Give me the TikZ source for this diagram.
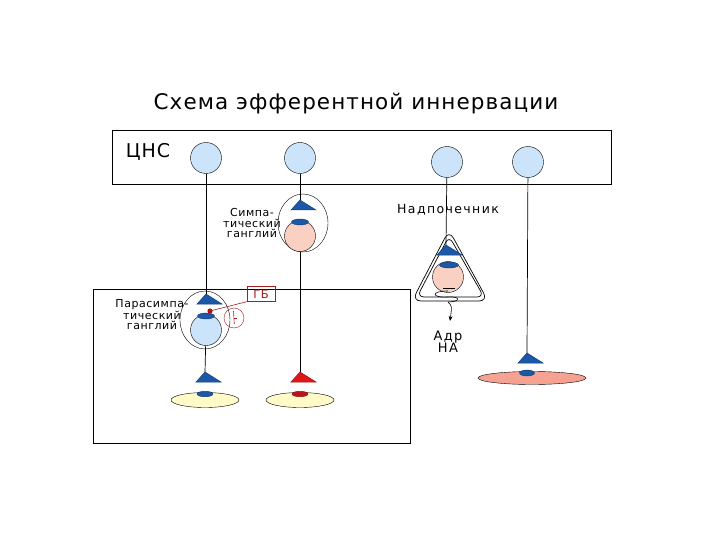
\documentclass[tikz,border=0pt]{standalone}
\usepackage{fontspec}
\setmainfont{DejaVu Sans}[LetterSpace=11]
\newfontfamily\titlefont{DejaVu Sans}[LetterSpace=5]
\usetikzlibrary{shapes.geometric, arrows.meta}

\definecolor{somablue}{RGB}{204,228,250}
\definecolor{somapink}{RGB}{250,208,194}
\definecolor{termblue}{RGB}{28,88,168}
\definecolor{termred}{RGB}{222,24,24}
\definecolor{cellyellow}{RGB}{255,250,200}
\definecolor{cellsalmon}{RGB}{245,162,146}
\definecolor{gbred}{RGB}{165,30,30}

\begin{document}
\begin{tikzpicture}[
    x=1pt, y=-1pt,
    >={Stealth[length=5pt, width=4pt]},
    % Styles
    soma_blue/.style={circle, draw=black, fill=somablue, minimum size=31pt, inner sep=0pt},
    soma_pink/.style={circle, draw=black, fill=somapink, minimum size=31pt, inner sep=0pt},
    cap_blue/.style={ellipse, draw=termblue!60!black, fill=termblue, minimum width=17pt, minimum height=6pt, inner sep=0pt},
    cap_red/.style={cap_blue, draw=termred!60!black, fill=termred!85!black},
    ganglion/.style={ellipse, draw=black, minimum width=50pt, minimum height=58pt, inner sep=0pt},
    target_cell/.style={ellipse, draw=black, minimum width=68pt, minimum height=15pt, inner sep=0pt},
    frame_box/.style={draw=black, line width=0.6pt},
    axon/.style={black, line width=0.7pt},
    small_label/.style={font=\titlefont\fontsize{11}{10.4}\selectfont, align=center},
    pics/term/.style={code={
        \filldraw[fill=#1, draw=#1!70!black, line width=0.5pt] (0,0) -- (-9,10) -- (16,10) -- cycle;}}
]
    \useasboundingbox (0,0) rectangle (720,540);

    % ==========================================
    % 1. TITLE AND FRAMES
    % ==========================================
    \node[font=\titlefont\fontsize{21.5}{24}\selectfont] (title) at (356,104) {Схема эфферентной иннервации};

    \draw[frame_box] (112,130) rectangle (611,184);
    \node[font=\titlefont\fontsize{19}{21}\selectfont] (cns) at (148,152) {ЦНС};

    \draw[frame_box] (93,289) rectangle (410,443);

    % ==========================================
    % 2. CNS NEURONS
    % ==========================================
    \node[soma_blue] (cns1) at (206,158) {};
    \node[soma_blue] (cns2) at (300,158) {};
    \node[soma_blue] (cns3) at (447,162) {};
    \node[soma_blue] (cns4) at (528,162) {};

    % ==========================================
    % 3. SYNAPSE POINTS
    % ==========================================
    \coordinate (symp_syn) at (300,200);
    \coordinate (para_syn) at (206,294);
    \coordinate (adr_syn) at (446,245);
    \coordinate (eff1_syn) at (205,372);
    \coordinate (eff2_syn) at (300,372);
    \coordinate (eff3_syn) at (527,353);

    % ==========================================
    % 4. SYMPATHETIC GANGLION
    % ==========================================
    \node[ganglion] (symp_gang) at (303,223) {};
    \node[soma_pink] (symp_soma) at (300,236) {};
    \node[cap_blue] (symp_cap) at (300,222) {};
    \node[small_label] (symp_text) at (252,223) {Симпа-\\тический\\ганглий};

    % ==========================================
    % 5. PARASYMPATHETIC GANGLION
    % ==========================================
    \node[ganglion] (para_gang) at (205,320) {};
    \node[soma_blue] (para_soma) at (206,330) {};
    \node[cap_blue] (para_cap) at (206,316) {};
    \node[small_label] (para_text) at (152,315) {Парасимпа-\\тический\\ганглий};

    % ГБ receptor
    \node[draw=gbred, text=gbred, font=\titlefont\fontsize{11.5}{12}\selectfont, text height=8.5pt, text depth=0pt, minimum width=28pt, minimum height=15pt, inner sep=0pt] (gb) at (261,294) {ГБ};
    \coordinate (gb_site) at (210,311);
    \draw[gbred, line width=0.6pt] (gb_site) -- (gb.south west);
    \fill[termred!80!black] (gb_site) circle (2.6);
    \node[circle, draw=gbred, minimum size=20pt, inner sep=0pt] (block) at (234,318) {};
    \draw[gbred, line width=0.6pt] (block.center) ++(-0.5,-7) -- ++(0.8,13);
    \draw[gbred, line width=0.6pt] (block.center) -- ++(3,0);

    % ==========================================
    % 6. ADRENAL GLAND
    % ==========================================
    \draw[line width=0.7pt, rounded corners=9] (449,230) -- (488,301) -- (412,301) -- cycle;
    \draw[line width=0.7pt, rounded corners=7] (449,236) -- (484,297) -- (417,297) -- cycle;
    \node[soma_pink] (adr_soma) at (448,277) {};
    \node[cap_blue, minimum width=19pt] (adr_cap) at (449,265) {};
    \draw[line width=0.6pt] (443,288) -- (455,288);
    \node[font=\fontsize{12.5}{14}\selectfont] (adr_text) at (448,210) {Надпочечник};

    % coil and release
    \coordinate (coil_end) at (448,302);
    \coordinate (release) at (450,321);
    \draw[line width=0.6pt] (448,291) .. controls (430,291) and (432,298) .. (447,297)
        .. controls (462,296) and (460,302) .. (coil_end);
    \draw[->, line width=0.6pt] (coil_end) .. controls (452,306) .. (release);
    \node[font=\fontsize{13}{14}\selectfont, align=center, inner sep=0pt] (hormones) at (448,342) {Адр\\[-2pt]НА};

    % ==========================================
    % 7. TARGET CELLS
    % ==========================================
    \node[target_cell, fill=cellyellow] (eff1) at (205,400) {};
    \node[cap_blue, minimum width=16pt, minimum height=5.5pt] (eff1_cap) at (205,394) {};
    \node[target_cell, fill=cellyellow] (eff2) at (300,400) {};
    \node[cap_red, minimum width=16pt, minimum height=5.5pt] (eff2_cap) at (300,394) {};
    \node[target_cell, fill=cellsalmon, minimum width=108pt, minimum height=13pt] (eff3) at (532,378) {};
    \node[cap_blue, minimum width=15pt, minimum height=6pt] (eff3_cap) at (527,373) {};

    % ==========================================
    % 8. AXONS
    % ==========================================
    \draw[axon] (cns1) -- (para_syn);
    \draw[axon] (cns2) -- (symp_syn);
    \draw[axon] (cns3) -- (adr_syn);
    \draw[axon] (cns4) -- (eff3_syn);
    \draw[axon] (para_soma) -- (eff1_syn);
    \draw[axon] (symp_soma) -- (eff2_syn);

    % ==========================================
    % 9. TERMINALS (drawn last to stay on top)
    % ==========================================
    \pic at (symp_syn) {term=termblue};
    \pic at (para_syn) {term=termblue};
    \pic at (adr_syn) {term=termblue};
    \pic at (eff1_syn) {term=termblue};
    \pic at (eff2_syn) {term=termred};
    \pic at (eff3_syn) {term=termblue};

\end{tikzpicture}
\end{document}
